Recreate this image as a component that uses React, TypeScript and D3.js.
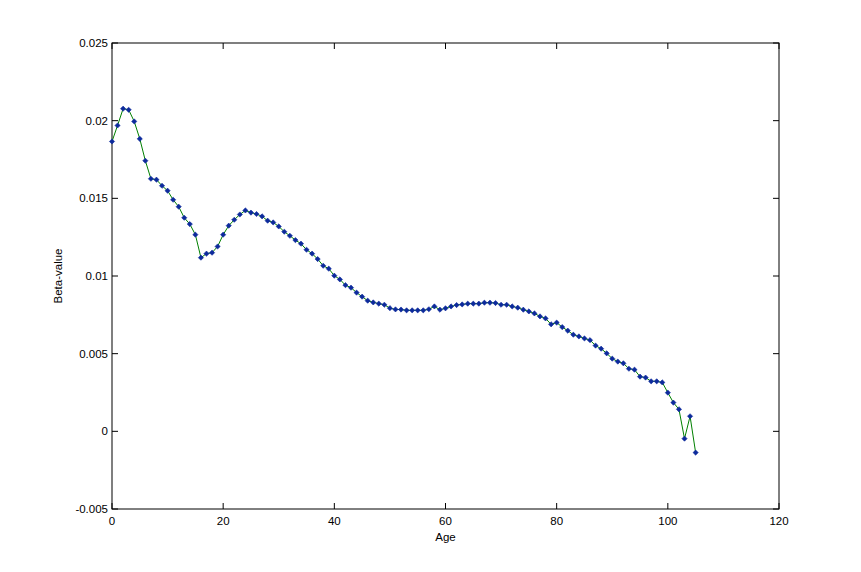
import React from "react";
import * as d3 from "d3";

const ages: number[] = d3.range(0, 106);
const betaValues: number[] = [
  0.01866, 0.01969, 0.02077, 0.0207, 0.01995, 0.01883, 0.01742, 0.01626, 0.0162, 0.01581,
  0.01549, 0.01491, 0.01446, 0.01375, 0.01334, 0.01266, 0.01118, 0.01144, 0.0115, 0.0119,
  0.01266, 0.01324, 0.01362, 0.01396, 0.01422, 0.01408, 0.01399, 0.01384, 0.01356, 0.01345,
  0.01319, 0.01285, 0.01259, 0.01231, 0.01208, 0.01169, 0.01144, 0.01109, 0.01066, 0.01047,
  0.01002, 0.00978, 0.00941, 0.00925, 0.00893, 0.00867, 0.00841, 0.0083, 0.00822, 0.00815,
  0.00793, 0.00785, 0.00784, 0.00779, 0.00779, 0.00779, 0.00779, 0.00786, 0.00804, 0.00783,
  0.00792, 0.00804, 0.00813, 0.00817, 0.00822, 0.00822, 0.00822, 0.00828, 0.00828, 0.00826,
  0.00815, 0.00815, 0.00804, 0.00796, 0.00783, 0.00772, 0.00759, 0.0074, 0.00727, 0.00689,
  0.007, 0.00671, 0.00648, 0.00622, 0.00611, 0.00598, 0.00587, 0.00552, 0.00532, 0.00502,
  0.00468, 0.00449, 0.00438, 0.00403, 0.00397, 0.00352, 0.00346, 0.00322, 0.00322, 0.00315,
  0.00249, 0.00185, 0.00142, -0.00047, 0.00097, -0.00137,
];
const xTicks: number[] = [0, 20, 40, 60, 80, 100, 120];
const yTicks: number[] = [-0.005, 0, 0.005, 0.01, 0.015, 0.02, 0.025];
const yTickLabels: string[] = ["-0.005", "0", "0.005", "0.01", "0.015", "0.02", "0.025"];
const xLabel = "Age";
const yLabel = "Beta-value";

const W = 861;
const H = 572;
const left = 112;
const right = 779;
const top = 43;
const bottom = 509;
const tickLen = 6;
const font = "Liberation Sans, Arial, sans-serif";

export default function App() {
  const x = d3.scaleLinear().domain([0, 120]).range([left, right]);
  const y = d3.scaleLinear().domain([-0.005, 0.025]).range([bottom, top]);
  const pts = ages.map((a, i) => [a, betaValues[i]] as [number, number]);
  const line = d3
    .line<[number, number]>()
    .x((d) => x(d[0]))
    .y((d) => y(d[1]));
  const r = 2.6;
  return (
    <svg
      width={W}
      height={H}
      style={{ position: "absolute", left: 0, top: 0, background: "#fff" }}
      fontFamily={font}
    >
      <rect x={0} y={0} width={W} height={H} fill="#fff" />
      <rect x={left} y={top} width={right - left} height={bottom - top} fill="#fff" stroke="#000" strokeWidth={1} />
      {xTicks.map((t) => (
        <g key={"x" + t}>
          <line x1={x(t)} x2={x(t)} y1={bottom} y2={bottom - tickLen} stroke="#000" />
          <line x1={x(t)} x2={x(t)} y1={top} y2={top + tickLen} stroke="#000" />
          <text x={x(t)} y={bottom + 16} textAnchor="middle" fontSize={11.5} fill="#000">
            {t}
          </text>
        </g>
      ))}
      {yTicks.map((t, i) => (
        <g key={"y" + t}>
          <line x1={left} x2={left + tickLen} y1={y(t)} y2={y(t)} stroke="#000" />
          <line x1={right} x2={right - tickLen} y1={y(t)} y2={y(t)} stroke="#000" />
          <text x={left - 4} y={y(t) + 4} textAnchor="end" fontSize={11.5} fill="#000">
            {yTickLabels[i]}
          </text>
        </g>
      ))}
      <path d={line(pts) || ""} fill="none" stroke="#008000" strokeWidth={1} />
      {pts.map((p, i) => {
        const cx = x(p[0]);
        const cy = y(p[1]);
        return (
          <path
            key={i}
            d={`M${cx},${cy - r}L${cx + r},${cy}L${cx},${cy + r}L${cx - r},${cy}Z`}
            fill="#0d2a9c"
            stroke="#0d2a9c"
            strokeWidth={0.6}
          />
        );
      })}
      <text x={(left + right) / 2} y={541} textAnchor="middle" fontSize={11.5} fill="#000">
        {xLabel}
      </text>
      <text
        transform={`translate(62,${(top + bottom) / 2}) rotate(-90)`}
        textAnchor="middle"
        fontSize={11.5}
        fill="#000"
      >
        {yLabel}
      </text>
    </svg>
  );
}
